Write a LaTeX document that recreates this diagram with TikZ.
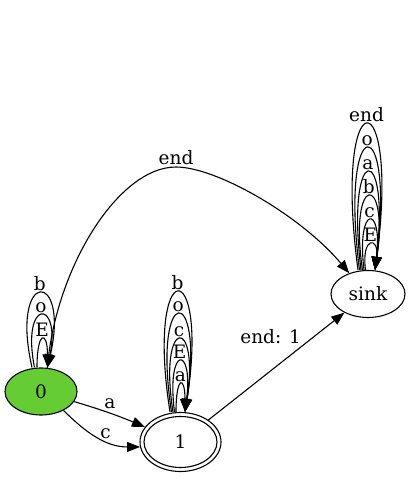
\documentclass[tikz,border=0pt]{standalone}
\usepackage{fontspec}
\setmainfont{DejaVu Serif}
\usetikzlibrary{arrows.meta,shapes.geometric}
\definecolor{nodegreen}{RGB}{102,204,51}
\begin{document}
\begin{tikzpicture}[x=1pt,y=1pt,
  every node/.style={font=\fontsize{18.5}{20}\selectfont},
  state/.style={ellipse, draw, line width=1.1pt, inner sep=0pt},
  edge/.style={line width=1.1pt, -{Triangle[length=13pt,width=10pt]}},
  lbl/.style={inner sep=2pt}]
\useasboundingbox (0,0) rectangle (413,477);
% nodes
\node[state, fill=nodegreen, minimum width=72pt, minimum height=47pt] (n0) at (41,85.5) {0};
\node[state, minimum width=81pt, minimum height=59pt] (n1) at (180.5,35) {1};
\draw[line width=1.1pt] (n1.center) ellipse [x radius=36.5, y radius=25.5];
\node[state, minimum width=74pt, minimum height=47pt] (sink) at (368,183) {sink};
% self loops on 0
\draw[edge] ([xshift=-9pt]n0.north) .. controls +(-22.6,98.7) and +(22.6,98.7) .. ([xshift=6.5pt]n0.north) node[lbl,pos=0.5,above]{b};
\draw[edge] ([xshift=-6.5pt]n0.north) .. controls +(-13.8,69.3) and +(13.8,69.3) .. ([xshift=6.5pt]n0.north) node[lbl,pos=0.5,above]{o};
\draw[edge] ([xshift=-4pt]n0.north) .. controls +(0,37.3) and +(0,37.3) .. ([xshift=6.5pt]n0.north) node[lbl,pos=0.5,above]{E};
% self loops on 1
\draw[edge] ([xshift=-10.5pt]n1.north) .. controls +(-25,159.3) and +(25,159.3) .. ([xshift=4.5pt]n1.north) node[lbl,pos=0.5,above]{b};
\draw[edge] ([xshift=-9pt]n1.north) .. controls +(-20,130) and +(20,130) .. ([xshift=4.5pt]n1.north) node[lbl,pos=0.5,above]{o};
\draw[edge] ([xshift=-7.5pt]n1.north) .. controls +(-15.2,96.7) and +(15.2,96.7) .. ([xshift=4.5pt]n1.north) node[lbl,pos=0.5,above]{c};
\draw[edge] ([xshift=-6pt]n1.north) .. controls +(-8.6,67.3) and +(8.6,67.3) .. ([xshift=4.5pt]n1.north) node[lbl,pos=0.5,above]{E};
\draw[edge] ([xshift=-4.5pt]n1.north) .. controls +(0,36.7) and +(0,36.7) .. ([xshift=4.5pt]n1.north) node[lbl,pos=0.5,above]{a};
% self loops on sink
\draw[edge] ([xshift=-10pt]sink.north) .. controls +(-25.9,194) and +(25.9,194) .. ([xshift=7pt]sink.north) node[lbl,pos=0.5,above]{end};
\draw[edge] ([xshift=-8.5pt]sink.north) .. controls +(-20.8,162) and +(20.8,162) .. ([xshift=7pt]sink.north) node[lbl,pos=0.5,above]{o};
\draw[edge] ([xshift=-7pt]sink.north) .. controls +(-15.9,130) and +(15.9,130) .. ([xshift=7pt]sink.north) node[lbl,pos=0.5,above]{a};
\draw[edge] ([xshift=-5.5pt]sink.north) .. controls +(-14.5,98) and +(14.5,98) .. ([xshift=7pt]sink.north) node[lbl,pos=0.5,above]{b};
\draw[edge] ([xshift=-4pt]sink.north) .. controls +(-8,66) and +(8,66) .. ([xshift=7pt]sink.north) node[lbl,pos=0.5,above]{c};
\draw[edge] ([xshift=-2.5pt]sink.north) .. controls +(-4.5,34) and +(4.5,34) .. ([xshift=7pt]sink.north) node[lbl,pos=0.5,above]{E};
% other edges
\draw[edge] (n0) to[bend left=3] node[lbl,pos=0.5,above=2pt]{a} (n1);
\draw[edge] (n0.-40) to[out=-45,in=180] node[lbl,pos=0.6,above]{c} (n1.187);
\draw[edge] (n1) -- node[lbl,pos=0.78,left=11pt]{end: 1} (sink);
\coordinate (apex0) at (176,310);
\draw[edge] (n0.75) .. controls +(8,99) and +(-58,0) .. (apex0) node[lbl,pos=1,above]{end}
  .. controls +(40,0) and +(-49.6,58.6) .. (sink.132);
\end{tikzpicture}
\end{document}
